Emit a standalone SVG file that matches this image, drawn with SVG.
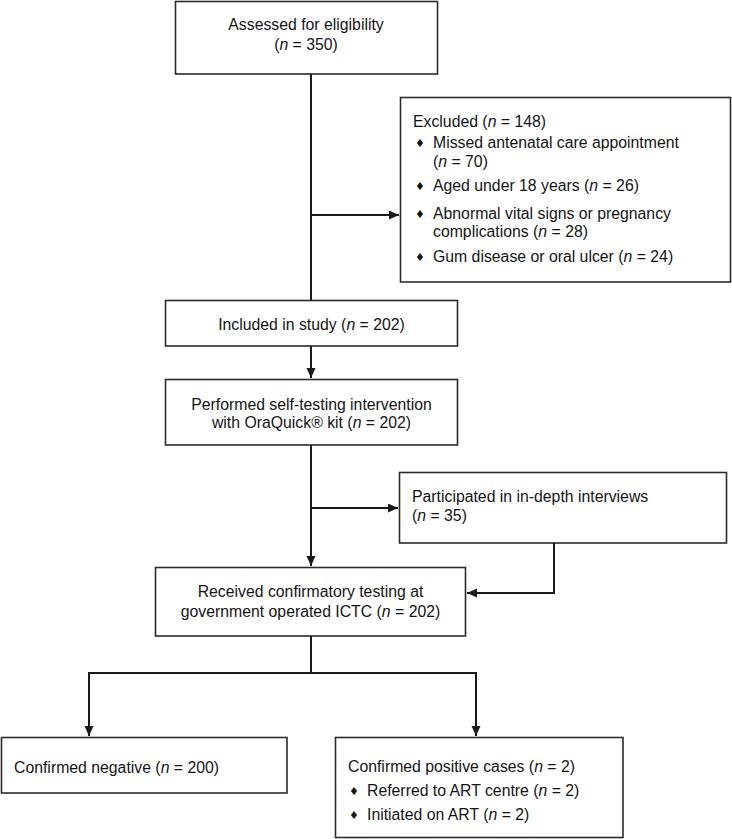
<svg xmlns="http://www.w3.org/2000/svg" width="732" height="839" viewBox="0 0 732 839">
<defs>
<marker id="ah" markerWidth="11" markerHeight="10" refX="10" refY="4.5" orient="auto" markerUnits="userSpaceOnUse">
<path d="M0,0 L10,4.5 L0,9 Z" fill="#1a1a1a"/>
</marker>
</defs>
<style>
.box{fill:#fff;stroke:#2b2b2b;stroke-width:1.6}
text{font-family:"Liberation Sans",Arial,sans-serif;font-size:15.8px;fill:#141414}
.c{text-anchor:middle}
.b{font-family:"DejaVu Sans",sans-serif;font-size:11px}
.i{font-style:italic}
.ln{fill:none;stroke:#1a1a1a;stroke-width:2}
</style>
<rect width="732" height="839" fill="#fff"/>
<g id="assessed">
<rect class="box" x="175.5" y="1.5" width="262" height="72.5"/>
<text class="c" x="306" y="30">Assessed for eligibility</text>
<text class="c" x="306" y="50">(<tspan class="i">n</tspan> = 350)</text>
</g>
<g id="excluded">
<rect class="box" x="400.5" y="97.5" width="330" height="184.5"/>
<text x="413" y="127">Excluded (<tspan class="i">n</tspan> = 148)</text>
<text class="b" x="415" y="147">♦</text>
<text x="433" y="148">Missed antenatal care appointment</text>
<text x="433" y="167">(<tspan class="i">n</tspan> = 70)</text>
<text class="b" x="415" y="190">♦</text>
<text x="433" y="191">Aged under 18 years (<tspan class="i">n</tspan> = 26)</text>
<text class="b" x="415" y="218">♦</text>
<text x="433" y="219">Abnormal vital signs or pregnancy</text>
<text x="433" y="237">complications (<tspan class="i">n</tspan> = 28)</text>
<text class="b" x="415" y="261">♦</text>
<text x="433" y="262">Gum disease or oral ulcer (<tspan class="i">n</tspan> = 24)</text>
</g>
<g id="included">
<rect class="box" x="165.5" y="300.5" width="292" height="45.5"/>
<text class="c" x="311.5" y="330">Included in study (<tspan class="i">n</tspan> = 202)</text>
</g>
<g id="performed">
<rect class="box" x="165.5" y="379.5" width="292" height="65.5"/>
<text class="c" x="311.5" y="410">Performed self-testing intervention</text>
<text class="c" x="311.5" y="428">with OraQuick® kit (<tspan class="i">n</tspan> = 202)</text>
</g>
<g id="interviews">
<rect class="box" x="399.5" y="472.5" width="327" height="70.5"/>
<text x="412" y="502">Participated in in-depth interviews</text>
<text x="412" y="521">(<tspan class="i">n</tspan> = 35)</text>
</g>
<g id="confirmatory">
<rect class="box" x="155.5" y="567.5" width="310" height="68.5"/>
<text class="c" x="310.5" y="597">Received confirmatory testing at</text>
<text class="c" x="310.5" y="617">government operated ICTC (<tspan class="i">n</tspan> = 202)</text>
</g>
<g id="negative">
<rect class="box" x="1.5" y="737.5" width="285.5" height="55.5"/>
<text x="14" y="773">Confirmed negative (<tspan class="i">n</tspan> = 200)</text>
</g>
<g id="positive">
<rect class="box" x="335.5" y="737.5" width="287.5" height="100"/>
<text x="348" y="772">Confirmed positive cases (<tspan class="i">n</tspan> = 2)</text>
<text class="b" x="349" y="795">♦</text>
<text x="367" y="796">Referred to ART centre (<tspan class="i">n</tspan> = 2)</text>
<text class="b" x="349" y="819">♦</text>
<text x="367" y="820">Initiated on ART (<tspan class="i">n</tspan> = 2)</text>
</g>
<g id="connectors">
<path class="ln" d="M311,74 V300"/>
<path class="ln" d="M311,215 H399" marker-end="url(#ah)"/>
<path class="ln" d="M311,346 V378" marker-end="url(#ah)"/>
<path class="ln" d="M311,445 V566" marker-end="url(#ah)"/>
<path class="ln" d="M311,508 H398" marker-end="url(#ah)"/>
<path class="ln" d="M554,543 V593 H467" marker-end="url(#ah)"/>
<path class="ln" d="M311,636 V673"/>
<path class="ln" d="M89,673 H476"/>
<path class="ln" d="M89,672 V736" marker-end="url(#ah)"/>
<path class="ln" d="M476,672 V736" marker-end="url(#ah)"/>
</g>
</svg>
